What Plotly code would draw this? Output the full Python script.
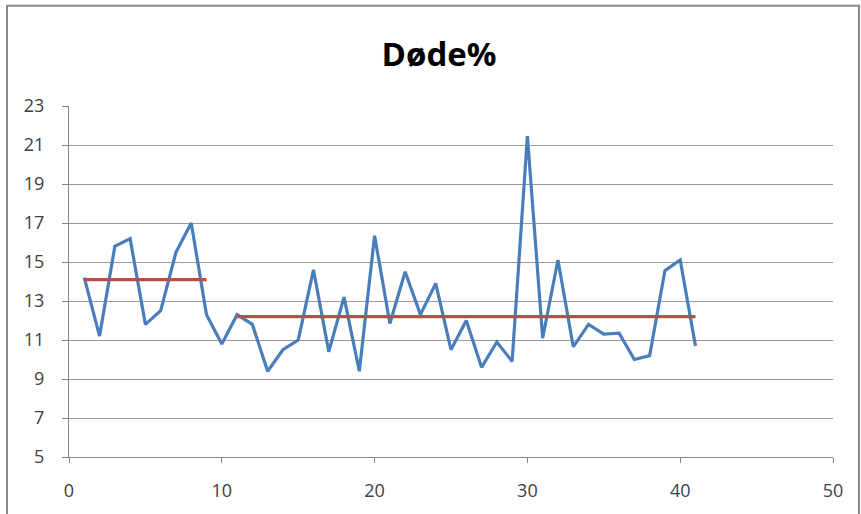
import plotly.graph_objects as go

# Data
x_vals = list(range(1, 42))
dode_pct = [14.2, 11.2, 15.8, 16.2, 11.8, 12.5, 15.5, 17.0, 12.3, 10.8,
            12.3, 11.8, 9.4, 10.5, 11.0, 14.6, 10.4, 13.2, 9.4, 16.35,
            11.85, 14.5, 12.3, 13.9, 10.5, 12.0, 9.6, 10.9, 9.9, 21.45,
            11.1, 15.1, 10.65, 11.8, 11.3, 11.35, 10.0, 10.2, 14.55, 15.1, 10.7]
mean1_x = [1, 9]
mean1_y = [14.1, 14.1]
mean2_x = [11, 41]
mean2_y = [12.2, 12.2]
title_text = "Døde%"
x_ticks = [0, 10, 20, 30, 40, 50]
y_ticks = [5, 7, 9, 11, 13, 15, 17, 19, 21, 23]

W, H = 861, 514
L, R, T, B = 69, 28, 106, 54
pw = W - L - R
ph = H - T - B

fig = go.Figure()
fig.add_trace(go.Scatter(x=x_vals, y=dode_pct, mode="lines",
                         line=dict(color="#4A7EBB", width=3.2), showlegend=False))
fig.add_trace(go.Scatter(x=mean1_x, y=mean1_y, mode="lines",
                         line=dict(color="#BE4B48", width=3.2), showlegend=False))
fig.add_trace(go.Scatter(x=mean2_x, y=mean2_y, mode="lines",
                         line=dict(color="#BE4B48", width=3.2), showlegend=False))

tick_font = dict(family="Open Sans, Arial, sans-serif", size=18, color="#404040")

fig.update_xaxes(range=[0, 50], tickvals=x_ticks, showgrid=False, zeroline=False,
                 showline=True, linecolor="#868686", linewidth=1,
                 ticks="outside", ticklen=5, tickcolor="#868686",
                 tickfont=tick_font, ticklabelstandoff=12)
fig.update_yaxes(range=[5, 23], tickvals=y_ticks, showgrid=True, gridcolor="#9a9a9a",
                 gridwidth=1, zeroline=False, showline=True, linecolor="#868686",
                 linewidth=1, ticks="outside", ticklen=6, tickcolor="#868686",
                 tickfont=tick_font, ticklabelstandoff=14)

fig.add_shape(type="rect", xref="paper", yref="paper",
              x0=(7 - L) / pw, x1=(859 - L) / pw,
              y0=(H - B - 530) / ph, y1=(H - B - 5) / ph,
              line=dict(color="#8a8a8a", width=2), layer="below")

fig.update_layout(
    width=W, height=H,
    margin=dict(l=L, r=R, t=T, b=B),
    paper_bgcolor="white", plot_bgcolor="white",
    title=dict(text="<b>" + title_text + "</b>", x=(439 - L) / pw, xref="paper",
               xanchor="center", y=1 - 54 / H, yref="container", yanchor="middle",
               font=dict(family="Open Sans, Arial, sans-serif", size=33, color="#000000")),
)

fig.write_html("out.html", config={"displayModeBar": False},
               post_script="document.body.style.margin='0px';")
